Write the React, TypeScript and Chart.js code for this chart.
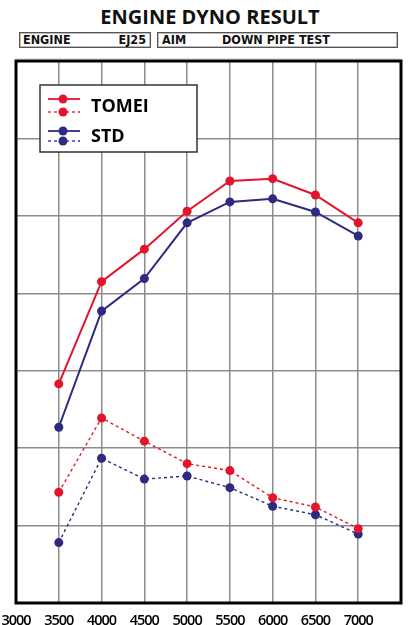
import React, { useEffect, useRef } from "react";
import { Chart, registerables } from "chart.js";

Chart.register(...registerables);

const rpm = [3500, 4000, 4500, 5000, 5500, 6000, 6500, 7000];
const xTickValues = [3000, 3500, 4000, 4500, 5000, 5500, 6000, 6500, 7000];
const tomeiPower = [2.83, 4.15, 4.57, 5.06, 5.45, 5.48, 5.27, 4.91];
const stdPower = [2.27, 3.77, 4.19, 4.91, 5.18, 5.22, 5.05, 4.74];
const tomeiTorque = [1.43, 2.39, 2.09, 1.8, 1.71, 1.36, 1.24, 0.96];
const stdTorque = [0.78, 1.87, 1.6, 1.64, 1.49, 1.25, 1.14, 0.89];
const legendNames = ["TOMEI", "STD"];

const RED = "#e3152d";
const BLUE = "#2d2a80";
const FONT = '"Liberation Sans Narrow", "DejaVu Sans Condensed", "Open Sans", sans-serif';

const toPts = (vals: number[]) => vals.map((v, i) => ({ x: rpm[i], y: v }));

const framePlugin = {
  id: "frame",
  beforeDraw(chart: any) {
    chart.ctx.letterSpacing = "-1px";
  },
  beforeDatasetsDraw(chart: any) {
    const { ctx, chartArea: a } = chart;
    ctx.letterSpacing = "0px";
    ctx.save();
    ctx.strokeStyle = "#000";
    ctx.lineWidth = 3;
    ctx.strokeRect(a.left, a.top, a.right - a.left, a.bottom - a.top);
    ctx.restore();
  },
  afterDraw(chart: any) {
    const { ctx, chartArea: a } = chart;
    const bx = a.left + 24;
    const by = a.top + 24;
    const bw = 157;
    const bh = 67;
    ctx.save();
    ctx.letterSpacing = "0px";
    ctx.fillStyle = "#fff";
    ctx.fillRect(bx, by, bw, bh);
    ctx.strokeStyle = "#333";
    ctx.lineWidth = 1.5;
    ctx.strokeRect(bx, by, bw, bh);
    const rows = [
      { color: RED, y1: by + 14, y2: by + 27, label: legendNames[0] },
      { color: BLUE, y1: by + 46, y2: by + 56, label: legendNames[1] },
    ];
    rows.forEach((r) => {
      const lx1 = bx + 8;
      const lx2 = bx + 40;
      const cx = bx + 23;
      ctx.strokeStyle = r.color;
      ctx.fillStyle = r.color;
      ctx.lineWidth = 1.8;
      ctx.setLineDash([]);
      ctx.beginPath();
      ctx.moveTo(lx1, r.y1);
      ctx.lineTo(lx2, r.y1);
      ctx.stroke();
      ctx.beginPath();
      ctx.arc(cx, r.y1, 4.5, 0, Math.PI * 2);
      ctx.fill();
      ctx.lineWidth = 1.3;
      ctx.setLineDash([3, 3]);
      ctx.beginPath();
      ctx.moveTo(lx1, r.y2);
      ctx.lineTo(lx2, r.y2);
      ctx.stroke();
      ctx.setLineDash([]);
      ctx.beginPath();
      ctx.arc(cx, r.y2, 4.5, 0, Math.PI * 2);
      ctx.fill();
      ctx.fillStyle = "#000";
      ctx.font = 'bold 18px "Open Sans", sans-serif';
      ctx.textBaseline = "middle";
      ctx.textAlign = "left";
      ctx.fillText(r.label, bx + 51, (r.y1 + r.y2) / 2 + 1);
    });
    ctx.restore();
  },
};

export default function App() {
  const ref = useRef<HTMLCanvasElement | null>(null);

  useEffect(() => {
    if (!ref.current) return;
    const solid = (label: string, color: string, vals: number[]) => ({
      label,
      data: toPts(vals),
      borderColor: color,
      backgroundColor: color,
      borderWidth: 2,
      pointRadius: 4.5,
      pointBackgroundColor: color,
      pointBorderColor: color,
      pointBorderWidth: 0,
      tension: 0,
    });
    const dashed = (label: string, color: string, vals: number[]) => ({
      ...solid(label, color, vals),
      borderWidth: 1.4,
      borderDash: [3, 3],
    });
    const chart = new Chart(ref.current, {
      type: "line",
      data: {
        datasets: [
          solid("TOMEI", RED, tomeiPower),
          solid("STD", BLUE, stdPower),
          dashed("TOMEI torque", RED, tomeiTorque),
          dashed("STD torque", BLUE, stdTorque),
        ],
      },
      options: {
        animation: false,
        responsive: false,
        devicePixelRatio: 1,
        layout: { padding: { left: 16, top: 61, right: 9, bottom: 0 } },
        plugins: { legend: { display: false }, tooltip: { enabled: false } },
        scales: {
          x: {
            type: "linear",
            min: 3000,
            max: 7500,
            afterBuildTicks: (s: any) => {
              s.ticks = [...xTickValues, 7500].map((v) => ({ value: v }));
            },
            afterFit: (s: any) => {
              s.height = 22;
              s.paddingLeft = 0;
              s.paddingRight = 0;
            },
            ticks: {
              autoSkip: false,
              maxRotation: 0,
              padding: 9,
              color: "#000",
              font: { family: '"Open Sans", sans-serif', size: 14.5, weight: "600" },
              callback: (v: any) => (xTickValues.includes(Number(v)) ? String(v) : ""),
            },
            grid: { color: "#8c8c8c", lineWidth: 1.5, drawTicks: false },
            border: { display: false },
          },
          y: {
            min: 0,
            max: 7,
            afterFit: (s: any) => {
              s.width = 0;
              s.paddingTop = 0;
              s.paddingBottom = 0;
            },
            ticks: { display: false, stepSize: 1 },
            grid: { color: "#8c8c8c", lineWidth: 1.5, drawTicks: false },
            border: { display: false },
          },
        },
      } as any,
      plugins: [framePlugin],
    });
    return () => chart.destroy();
  }, []);

  const box: React.CSSProperties = {
    position: "absolute",
    top: 32,
    height: 14,
    border: "1.5px solid #555",
    boxShadow: "inset 0 0 0 1px #bbb",
    fontFamily: FONT,
    fontWeight: 600,
    fontSize: 12.5,
    lineHeight: "14px",
    color: "#111",
  };

  return (
    <div style={{ position: "absolute", left: 0, top: 0, width: 410, height: 625, background: "#fff", overflow: "hidden" }}>
      <div
        style={{
          position: "absolute",
          top: 5,
          left: 0,
          width: 420,
          textAlign: "center",
          fontFamily: '"Open Sans", sans-serif',
          fontWeight: "bold",
          fontSize: 20,
          lineHeight: "24px",
          color: "#111",
        }}
      >
        ENGINE DYNO RESULT
      </div>
      <div style={{ ...box, left: 19, width: 130 }}>
        <span style={{ position: "absolute", left: 3 }}>ENGINE</span>
        <span style={{ position: "absolute", right: 4 }}>EJ25</span>
      </div>
      <div style={{ ...box, left: 157, width: 239 }}>
        <span style={{ position: "absolute", left: 4 }}>AIM</span>
        <span style={{ position: "absolute", left: 64 }}>DOWN PIPE TEST</span>
      </div>
      <div style={{ position: "absolute", left: 15, top: 58, width: 386, height: 1, background: "#e2e2e2" }} />
      <canvas ref={ref} width={410} height={625} style={{ position: "absolute", left: 0, top: 0 }} />
    </div>
  );
}
